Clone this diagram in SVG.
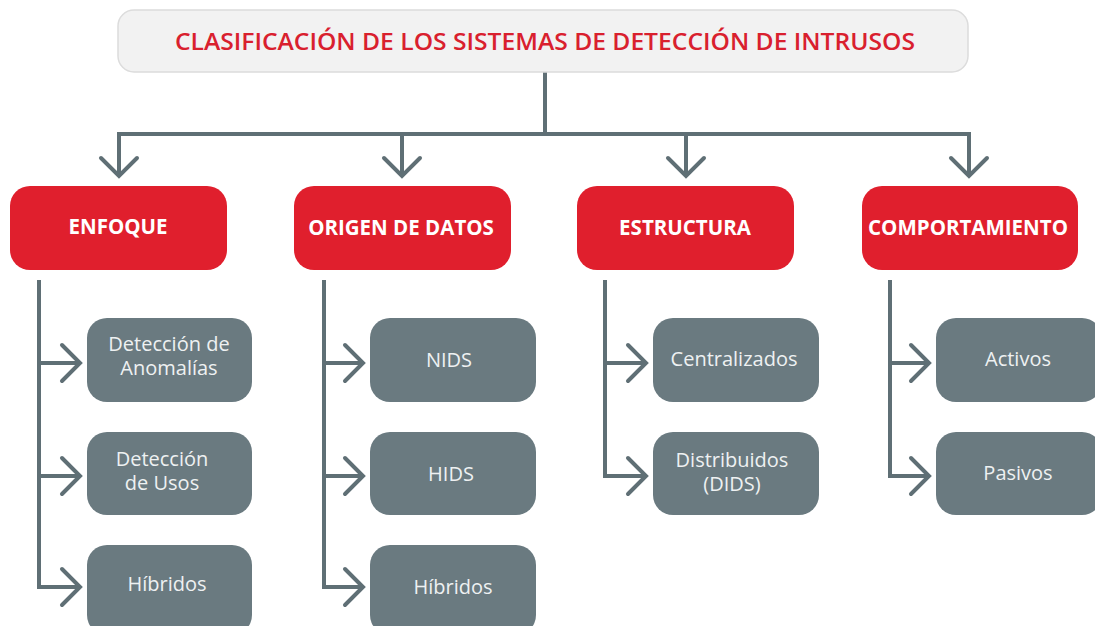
<svg xmlns="http://www.w3.org/2000/svg" width="1095" height="626" viewBox="0 0 1095 626">
<defs>
<marker id="chev" markerUnits="userSpaceOnUse" markerWidth="40" markerHeight="44" viewBox="-22 -22 26 44" refX="0" refY="0" orient="auto">
<path d="M-18,-18 L0,0 L-18,18" fill="none" stroke="#5f6f75" stroke-width="4" stroke-linecap="round" stroke-linejoin="miter"/>
</marker>
<style>
.conn{fill:none;stroke:#5f6f75;stroke-width:4}
.arr{fill:none;stroke:#5f6f75;stroke-width:4;marker-end:url(#chev)}
.red{fill:#e01f2d}
.gray{fill:#6a7a80}
.rt{font-family:"Open Sans","Liberation Sans",sans-serif;font-weight:bold;font-size:20.5px;fill:#ffffff;text-anchor:middle}
.gt{font-family:"Open Sans","Liberation Sans",sans-serif;font-size:20px;fill:#eef1f2;text-anchor:middle}
</style>
</defs>
<rect width="1095" height="626" fill="#ffffff"/>
<g id="connectors">
<path class="conn" d="M545,72 V134 M119,134 H969"/>
<path class="arr" d="M119,132 V176"/>
<path class="arr" d="M402,132 V176"/>
<path class="arr" d="M686,132 V176"/>
<path class="arr" d="M969,132 V176"/>
<path class="conn" d="M39,280 V588"/>
<path class="arr" d="M37,363 H80"/>
<path class="arr" d="M37,476 H80"/>
<path class="arr" d="M37,587 H80"/>
<path class="conn" d="M324,280 V588"/>
<path class="arr" d="M322,363 H363"/>
<path class="arr" d="M322,476 H363"/>
<path class="arr" d="M322,587 H363"/>
<path class="conn" d="M605,280 V476"/>
<path class="arr" d="M603,363 H646"/>
<path class="arr" d="M603,476 H646"/>
<path class="conn" d="M890,280 V476"/>
<path class="arr" d="M888,363 H929"/>
<path class="arr" d="M888,476 H929"/>
</g>
<g id="title">
<rect x="118" y="10" width="850" height="62" rx="16" fill="#f2f2f2" stroke="#dcdcdc" stroke-width="1.5"/>
<text x="545" y="49.5" font-family="Open Sans, Liberation Sans, sans-serif" font-weight="600" font-size="23" fill="#d9202e" text-anchor="middle" textLength="740" lengthAdjust="spacingAndGlyphs">CLASIFICACIÓN DE LOS SISTEMAS DE DETECCIÓN DE INTRUSOS</text>
</g>
<g id="enfoque">
<rect class="red" x="10" y="186" width="217" height="84" rx="20"/>
<text class="rt" x="118" y="234">ENFOQUE</text>
</g>
<g id="origen">
<rect class="red" x="294" y="186" width="217" height="84" rx="20"/>
<text class="rt" x="401" y="235">ORIGEN DE DATOS</text>
</g>
<g id="estructura">
<rect class="red" x="577" y="186" width="217" height="84" rx="20"/>
<text class="rt" x="685" y="235">ESTRUCTURA</text>
</g>
<g id="comportamiento">
<rect class="red" x="862" y="186" width="216" height="84" rx="20"/>
<text class="rt" x="968" y="235">COMPORTAMIENTO</text>
</g>
<g id="anomalias">
<rect class="gray" x="87" y="318" width="165" height="84" rx="20"/>
<text class="gt" x="169" y="351">Detección de</text>
<text class="gt" x="169" y="375">Anomalías</text>
</g>
<g id="usos">
<rect class="gray" x="87" y="432" width="165" height="83" rx="20"/>
<text class="gt" x="162" y="466">Detección</text>
<text class="gt" x="162" y="490">de Usos</text>
</g>
<g id="hibridos1">
<rect class="gray" x="87" y="545" width="165" height="90" rx="20"/>
<text class="gt" x="167" y="591">Híbridos</text>
</g>
<g id="nids">
<rect class="gray" x="370" y="318" width="166" height="84" rx="20"/>
<text class="gt" x="449" y="367">NIDS</text>
</g>
<g id="hids">
<rect class="gray" x="370" y="432" width="166" height="83" rx="20"/>
<text class="gt" x="451" y="481">HIDS</text>
</g>
<g id="hibridos2">
<rect class="gray" x="370" y="545" width="166" height="90" rx="20"/>
<text class="gt" x="453" y="594">Híbridos</text>
</g>
<g id="centralizados">
<rect class="gray" x="653" y="318" width="166" height="84" rx="20"/>
<text class="gt" x="734" y="366">Centralizados</text>
</g>
<g id="distribuidos">
<rect class="gray" x="653" y="432" width="166" height="83" rx="20"/>
<text class="gt" x="732" y="467">Distribuidos</text>
<text class="gt" x="732" y="491">(DIDS)</text>
</g>
<g id="activos">
<rect class="gray" x="936" y="318" width="166" height="84" rx="20"/>
<text class="gt" x="1018" y="366">Activos</text>
</g>
<g id="pasivos">
<rect class="gray" x="936" y="432" width="166" height="83" rx="20"/>
<text class="gt" x="1018" y="480">Pasivos</text>
</g>
</svg>
